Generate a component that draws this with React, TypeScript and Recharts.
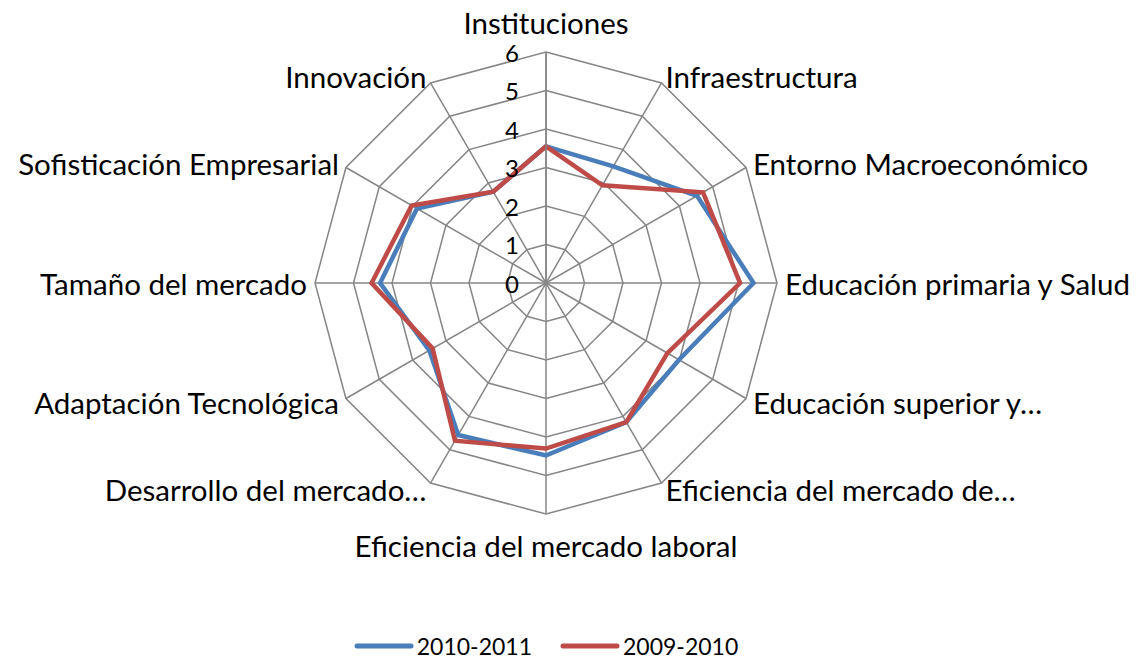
import React from 'react';
import { RadarChart, Radar, PolarGrid, PolarAngleAxis, PolarRadiusAxis, Legend } from 'recharts';

const categories = [
  'Instituciones',
  'Infraestructura',
  'Entorno Macroeconómico',
  'Educación primaria y Salud',
  'Educación superior y…',
  'Eficiencia del mercado de…',
  'Eficiencia del mercado laboral',
  'Desarrollo del mercado…',
  'Adaptación Tecnológica',
  'Tamaño del mercado',
  'Sofisticación Empresarial',
  'Innovación',
];

const serie2010 = [3.55, 3.5, 4.53, 5.39, 3.99, 4.17, 4.48, 4.56, 3.5, 4.31, 3.87, 2.74];
const serie2009 = [3.55, 2.93, 4.71, 5.04, 3.64, 4.17, 4.3, 4.73, 3.4, 4.53, 4.03, 2.74];

const radiusTicks = [0, 1, 2, 3, 4, 5, 6];

const data = categories.map((name, i) => ({
  name,
  a: serie2010[i],
  b: serie2009[i],
}));

const FONT = 'Lato, "Open Sans", sans-serif';
const BLUE = '#4A7EBB';
const RED = '#BE4B48';

const AngleTick = (props: any) => {
  const { x, y, payload } = props;
  const rad = (payload.coordinate * Math.PI) / 180;
  const cos = Math.cos(rad);
  const sin = Math.sin(rad);
  let anchor: 'start' | 'end' | 'middle' = 'middle';
  if (cos > 0.01) anchor = 'start';
  else if (cos < -0.01) anchor = 'end';
  let dy = 0;
  if (Math.abs(cos) < 0.01) dy = sin > 0 ? -22 : 23;
  return (
    <text
      x={x}
      y={y + dy}
      textAnchor={anchor}
      dominantBaseline="central"
      fontFamily={FONT}
      fontSize={29.5}
      fill="#000"
    >
      {payload.value}
    </text>
  );
};

const RadiusTick = (props: any) => {
  const { x, y, payload } = props;
  return (
    <text
      x={x - 27}
      y={y}
      textAnchor="end"
      dominantBaseline="central"
      fontFamily={FONT}
      fontSize={24}
      fill="#000"
    >
      {payload.value}
    </text>
  );
};

const LegendContent = () => {
  const items = [
    { label: '2010-2011', color: BLUE },
    { label: '2009-2010', color: RED },
  ];
  return (
    <div style={{ display: 'flex', justifyContent: 'center', gap: 28, fontFamily: FONT, fontSize: 23, lineHeight: '26px', paddingRight: 48 }}>
      {items.map((it) => (
        <div key={it.label} style={{ display: 'flex', alignItems: 'center', gap: 3 }}>
          <svg width={60} height={8}>
            <line x1={3} y1={4} x2={57} y2={4} stroke={it.color} strokeWidth={5} strokeLinecap="round" />
          </svg>
          <span>{it.label}</span>
        </div>
      ))}
    </div>
  );
};

export default function App() {
  return (
    <div style={{ width: 1140, height: 663, margin: -8 }}>
      <RadarChart
        width={1140}
        height={663}
        data={data}
        cx={546}
        cy={283}
        outerRadius={231}
        startAngle={90}
        endAngle={-270}
        margin={{ top: 0, right: 0, bottom: 0, left: 0 }}
      >
        <PolarGrid gridType="polygon" stroke="#868686" strokeWidth={1.5} />
        <PolarAngleAxis dataKey="name" tick={AngleTick} tickLine={false} axisLine={false} />
        <PolarRadiusAxis
          angle={90}
          domain={[0, 6]}
          ticks={radiusTicks}
          tickCount={7}
          tick={RadiusTick}
          axisLine={{ stroke: '#868686', strokeWidth: 1.5 }}
          tickLine={false}
        />
        <Radar
          name="2010-2011"
          dataKey="a"
          stroke={BLUE}
          strokeWidth={4.5}
          fill="none"
          fillOpacity={0}
          dot={false}
          isAnimationActive={false}
        />
        <Radar
          name="2009-2010"
          dataKey="b"
          stroke={RED}
          strokeWidth={4.5}
          fill="none"
          fillOpacity={0}
          dot={false}
          isAnimationActive={false}
        />
        <Legend
          verticalAlign="bottom"
          content={LegendContent}
          wrapperStyle={{ bottom: 4 }}
        />
      </RadarChart>
    </div>
  );
}
